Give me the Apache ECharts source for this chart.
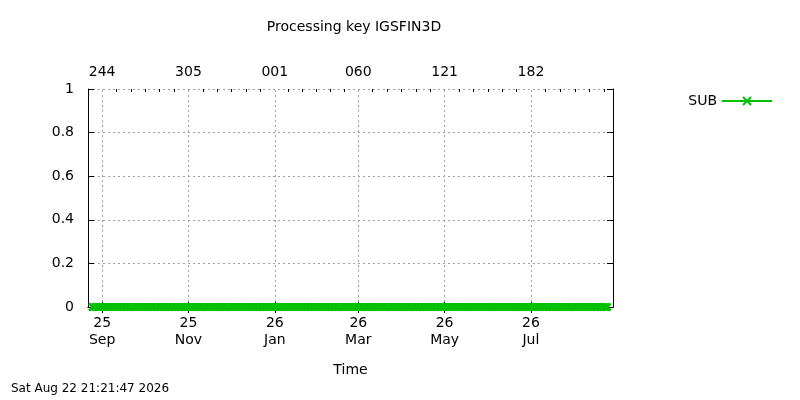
<!DOCTYPE html>
<html><head><meta charset="utf-8">
<script src="https://cdn.jsdelivr.net/npm/echarts@6/dist/echarts.min.js"></script>
<style>html,body{margin:0;padding:0;background:#fff}#c{width:800px;height:400px}</style>
</head><body><div id="c"></div>
<script>
const title = 'Processing key IGSFIN3D';
const seriesName = 'SUB';
const startDate = [2025, 7, 22];
const endDate = [2026, 7, 28];
const firstPoint = [2025, 7, 25];
const lastPoint = [2026, 7, 24];
const subValue = 0; // every daily value reads 0
const majorTicks = [[2025,8,1],[2025,10,1],[2026,0,1],[2026,2,1],[2026,4,1],[2026,6,1]];
const dayOfYearLabels = ['244','305','001','060','121','182'];
const footer = 'Sat Aug 22 21:21:47 2026';

const U = a => Date.UTC(a[0], a[1], a[2]);
const DAY = 86400000;
const xmin = U(startDate), xmax = U(endDate);
const majors = majorTicks.map(U);
const minors = [];
for (let i = 0; i < majors.length; i++) {
  const a = majors[i], b = i + 1 < majors.length ? majors[i + 1] : majors[i] + 62 * DAY;
  for (let k = 1; k < 6; k++) { const v = a + (b - a) * k / 6; if (v < xmax) minors.push(v); }
}
const firstMinor = majors[0] - (majors[1] - majors[0]) / 6;
const data = [];
for (let t = U(firstPoint); t <= U(lastPoint); t += DAY) data.push([t, subValue]);

const MON = ['Jan','Feb','Mar','Apr','May','Jun','Jul','Aug','Sep','Oct','Nov','Dec'];
const font = 'DejaVu Sans';
const cross = 'path://M0,0L10,10M10,0L0,10';
function xa(pos, labelVals, fmt, ticks, len, show) {
  return {
    type: 'value', position: pos, min: xmin, max: xmax,
    axisLine: { show: show, lineStyle: { color: '#000' } },
    axisTick: { inside: true, length: len, customValues: ticks, lineStyle: { color: '#000' } },
    axisLabel: { show: !!labelVals, customValues: labelVals || ticks, formatter: fmt, color: '#000', fontFamily: font, fontSize: 14, margin: 8, lineHeight: 17 },
    splitLine: { show: false }
  };
}
const botFmt = v => { const d = new Date(v); return String(d.getUTCFullYear() % 100) + '\n' + MON[d.getUTCMonth()]; };
const topFmt = v => dayOfYearLabels[majors.indexOf(v)] || '';
const chart = echarts.init(document.getElementById('c'));
chart.setOption({
  animation: false,
  title: { text: title, left: 349, textAlign: 'center', top: 15, textStyle: { fontFamily: font, fontSize: 14, fontWeight: 'normal', color: '#000' } },
  grid: { left: 88, right: 187, top: 89, bottom: 93 },
  legend: { right: 22, top: 89, align: 'right', itemWidth: 50, itemHeight: 10, textStyle: { fontFamily: font, fontSize: 14, color: '#000' }, data: [seriesName] },
  xAxis: [
    Object.assign(xa('bottom', majors, botFmt, majors, 6, true), { name: 'Time', nameLocation: 'middle', nameGap: 56, nameTextStyle: { fontFamily: font, fontSize: 14, color: '#000' } }),
    xa('top', majors, topFmt, majors, 6, true),
    xa('bottom', null, null, [firstMinor].concat(minors), 3, false),
    xa('top', null, null, [firstMinor].concat(minors), 3, false)
  ],
  yAxis: [
    { type: 'value', min: 0, max: 1, interval: 0.2, position: 'left',
      axisLine: { show: true, lineStyle: { color: '#000' } },
      axisTick: { inside: true, length: 6, lineStyle: { color: '#000' } },
      axisLabel: { color: '#000', fontFamily: font, fontSize: 14, margin: 14 },
      splitLine: { show: true, lineStyle: { type: [2, 3], color: '#a0a0a0' } } },
    { type: 'value', min: 0, max: 1, interval: 0.2, position: 'right',
      axisLine: { show: true, lineStyle: { color: '#000' } },
      axisTick: { inside: true, length: 6, lineStyle: { color: '#000' } },
      axisLabel: { show: false }, splitLine: { show: false } }
  ],
  graphic: [{ type: 'text', left: 11, top: 383, style: { text: footer, fontFamily: font, fontSize: 12, fill: '#000' } }],
  series: [
    { name: seriesName, type: 'line', data: data, xAxisIndex: 0, yAxisIndex: 0,
      symbol: cross, symbolSize: 7, showAllSymbol: true,
      itemStyle: { color: '#00c000', borderColor: '#00c000', borderWidth: 2 },
      lineStyle: { color: '#00c000', width: 2 }, z: 5,
      markLine: { silent: true, symbol: 'none', label: { show: false },
        lineStyle: { type: [2, 3], color: '#a0a0a0', width: 1 },
        data: majors.map(v => ({ xAxis: v })) } }
  ]
});
</script></body></html>
